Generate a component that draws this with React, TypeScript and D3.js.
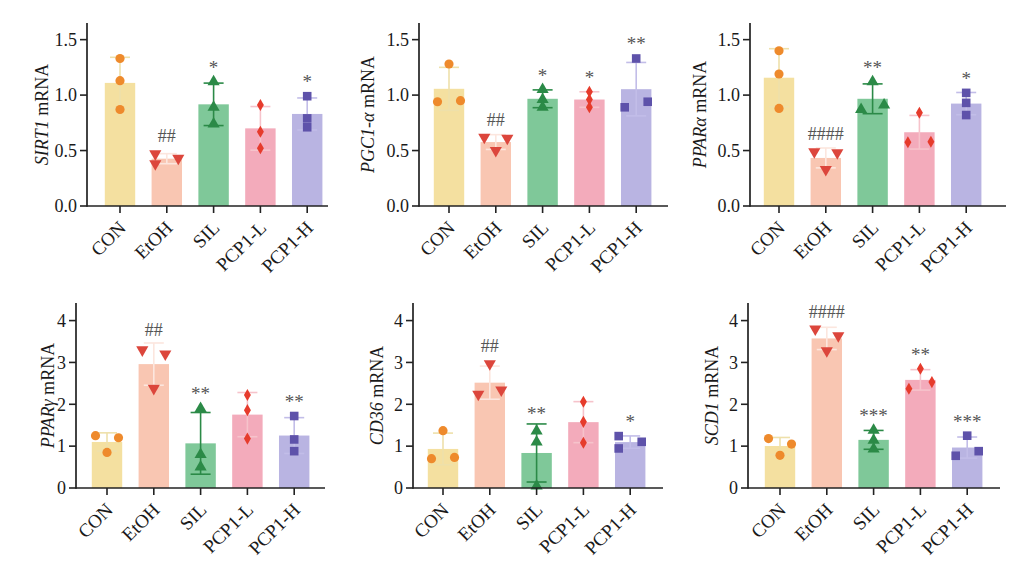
import React from "react";
import * as d3 from "d3";

const groups = ["CON", "EtOH", "SIL", "PCP1-L", "PCP1-H"];

// Individual replicate values (3 per group)
const sirt1 = [[1.33, 1.13, 0.87], [0.47, 0.38, 0.43], [1.12, 0.89, 0.74], [0.91, 0.67, 0.52], [0.99, 0.79, 0.71]];
const pgc1a = [[1.28, 0.94, 0.95], [0.62, 0.50, 0.61], [1.05, 0.96, 0.89], [1.03, 0.96, 0.89], [1.33, 0.89, 0.94]];
const pparA = [[1.40, 1.19, 0.88], [0.49, 0.48, 0.33], [1.12, 0.87, 0.91], [0.84, 0.575, 0.58], [1.02, 0.93, 0.82]];
const pparG = [[1.25, 1.20, 0.85], [3.30, 3.20, 2.38], [1.90, 0.80, 0.50], [2.22, 1.86, 1.18], [1.72, 1.16, 0.88]];
const cd36 = [[1.37, 0.70, 0.73], [2.97, 2.24, 2.34], [1.36, 1.10, 0.05], [2.06, 1.58, 1.08], [1.24, 0.945, 1.104]];
const scd1 = [[1.18, 1.05, 0.78], [3.80, 3.64, 3.28], [1.38, 1.14, 0.93], [2.85, 2.37, 2.53], [1.25, 0.77, 0.88]];

// Significance labels
const sirt1Sig = ["", "##", "*", "", "*"];
const pgc1aSig = ["", "##", "*", "*", "**"];
const pparASig = ["", "####", "**", "", "*"];
const pparGSig = ["", "##", "**", "", "**"];
const cd36Sig = ["", "##", "**", "", "*"];
const scd1Sig = ["", "####", "***", "**", "***"];

// Axis ticks
const topTicks = [0, 0.5, 1.0, 1.5];
const topTickLabels = ["0.0", "0.5", "1.0", "1.5"];
const bottomTicks = [0, 1, 2, 3, 4];
const bottomTickLabels = ["0", "1", "2", "3", "4"];

const barColors = ["#f4e0a0", "#f9c6b2", "#7fc899", "#f3abbb", "#b9b4e2"];
const pointColors = ["#ee8a2c", "#dc463c", "#2b8a47", "#e63b2c", "#5e52aa"];
const errColors = ["#eee0aa", "#fce6de", "#2b8a47", "#f6c3cb", "#c2bde8"];

const FONT = "'Liberation Serif', 'Times New Roman', serif";
const STEP = 46.8;

const rows = [
  { y0: 206, yTop: 23, max: 1.65, ticks: topTicks, labels: topTickLabels },
  { y0: 488, yTop: 303, max: 4.42, ticks: bottomTicks, labels: bottomTickLabels },
];

const panels = [
  { gene: "SIRT1", data: sirt1, sig: sirt1Sig, row: 0, axisX: 87, c0: 120, axisEnd: 328, labelX: 48 },
  { gene: "PGC1-α", data: pgc1a, sig: pgc1aSig, row: 0, axisX: 419, c0: 449, axisEnd: 668, labelX: 374 },
  { gene: "PPARα", data: pparA, sig: pparASig, row: 0, axisX: 750, c0: 779, axisEnd: 1006, labelX: 706 },
  { gene: "PPARγ", data: pparG, sig: pparGSig, row: 1, axisX: 76, c0: 107, axisEnd: 325, labelX: 54 },
  { gene: "CD36", data: cd36, sig: cd36Sig, row: 1, axisX: 413, c0: 443, axisEnd: 663, labelX: 383 },
  { gene: "SCD1", data: scd1, sig: scd1Sig, row: 1, axisX: 748, c0: 780, axisEnd: 1000, labelX: 718 },
];

const shapeFns = [
  d3.symbol(d3.symbolCircle, 66)(),
  d3.symbol(d3.symbolTriangle, 64)(),
  d3.symbol(d3.symbolTriangle, 64)(),
  d3.symbol(d3.symbolDiamond, 42)(),
  d3.symbol(d3.symbolSquare, 74)(),
];
const shapeRot = [0, 180, 0, 0, 0];

// Horizontal spreading of overlapping replicate points (Prism-like scatter)
function spread(vals: number[], y: (v: number) => number): number[] {
  const D = 7.2;
  const n = vals.length;
  const idx = d3.range(n).sort((a, b) => vals[a] - vals[b]);
  const off = new Array(n).fill(0);
  const chains: number[][] = [];
  let chain = [idx[0]];
  for (let k = 1; k < n; k++) {
    if (Math.abs(y(vals[idx[k]]) - y(vals[idx[k - 1]])) < D) chain.push(idx[k]);
    else {
      chains.push(chain);
      chain = [idx[k]];
    }
  }
  chains.push(chain);
  chains.forEach((c) => {
    if (c.length === 2) {
      const s = [...c].sort((a, b) => a - b);
      off[s[0]] = -11.5;
      off[s[1]] = 11.5;
    } else if (c.length > 2) {
      c.forEach((p, j) => (off[p] = j % 2 === 0 ? -11.5 : 11.5));
    }
  });
  return off;
}

function Panel({ p }: { p: (typeof panels)[number] }) {
  const r = rows[p.row];
  const y = d3.scaleLinear().domain([0, r.max]).range([r.y0, r.yTop]);
  const x = d3
    .scaleBand()
    .domain(groups)
    .range([p.c0 - STEP / 2, p.c0 + 4 * STEP + STEP / 2])
    .paddingInner(0.35)
    .paddingOuter(0.175);
  const bw = x.bandwidth();
  const midY = (r.y0 + r.yTop) / 2;

  return (
    <g>
      {groups.map((g, i) => {
        const vals = p.data[i];
        const m = d3.mean(vals)!;
        const sd = d3.deviation(vals)!;
        const cx = x(g)! + bw / 2;
        const offs = spread(vals, (v) => y(v));
        const topPx = Math.min(y(m + sd), ...vals.map((v) => y(v) - 4.5));
        const sig = p.sig[i];
        const isHash = sig.startsWith("#");
        const fs = isHash ? 18 : 19;
        const cy = topPx - 13;
        return (
          <g key={g}>
            <rect x={x(g)} y={y(m)} width={bw} height={r.y0 - y(m)} fill={barColors[i]} />
            <line x1={cx} x2={cx} y1={y(m - sd)} y2={y(m + sd)} stroke={errColors[i]} strokeWidth={1.6} />
            <line x1={cx - 10} x2={cx + 10} y1={y(m + sd)} y2={y(m + sd)} stroke={errColors[i]} strokeWidth={1.6} />
            <line x1={cx - 10} x2={cx + 10} y1={y(m - sd)} y2={y(m - sd)} stroke={errColors[i]} strokeWidth={1.6} />
            {vals.map((v, k) => (
              <path
                key={k}
                d={shapeFns[i]!}
                transform={`translate(${cx + offs[k]},${y(v)}) rotate(${shapeRot[i]})`}
                fill={pointColors[i]}
              />
            ))}
            {sig && (
              <text
                x={cx}
                y={cy + (isHash ? 0.34 : 0.5) * fs}
                textAnchor="middle"
                fontSize={fs}
                fontFamily={FONT}
                fill="#555"
              >
                {sig}
              </text>
            )}
            <line x1={cx} x2={cx} y1={r.y0} y2={r.y0 + 7} stroke="#222" strokeWidth={1.6} />
            <text
              transform={`translate(${cx + 7},${r.y0 + 23}) rotate(-45)`}
              textAnchor="end"
              fontSize={19}
              fontFamily={FONT}
              fill="#1a1a1a"
            >
              {g}
            </text>
          </g>
        );
      })}
      <line x1={p.axisX} x2={p.axisEnd} y1={r.y0} y2={r.y0} stroke="#222" strokeWidth={1.7} />
      <line x1={p.axisX} x2={p.axisX} y1={r.y0 + 0.8} y2={r.yTop} stroke="#222" strokeWidth={1.7} />
      {r.ticks.map((t, k) => (
        <g key={t}>
          <line x1={p.axisX - 7} x2={p.axisX} y1={y(t)} y2={y(t)} stroke="#222" strokeWidth={1.6} />
          <text
            x={p.axisX - 10}
            y={y(t)}
            dy="0.35em"
            textAnchor="end"
            fontSize={18}
            fontFamily={FONT}
            fill="#1a1a1a"
          >
            {r.labels[k]}
          </text>
        </g>
      ))}
      <text
        transform={`translate(${p.labelX},${midY}) rotate(-90)`}
        textAnchor="middle"
        fontSize={18}
        fontFamily={FONT}
        fill="#1a1a1a"
      >
        <tspan fontStyle="italic">{p.gene}</tspan>
        <tspan>{" mRNA"}</tspan>
      </text>
    </g>
  );
}

export default function App() {
  return (
    <div style={{ position: "absolute", left: 0, top: 0 }}>
      <svg width={1028} height={566} style={{ display: "block", background: "#fff" }}>
        {panels.map((p) => (
          <Panel key={p.gene} p={p} />
        ))}
      </svg>
    </div>
  );
}
